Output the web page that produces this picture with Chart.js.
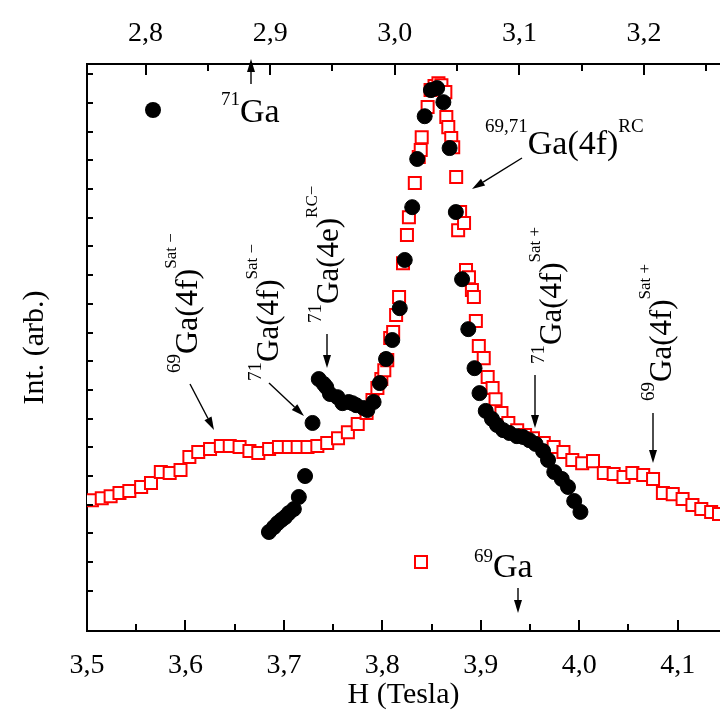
<!DOCTYPE html>
<html lang="en">
<head>
<meta charset="UTF-8">
<title>Ga spectrum</title>
<style>
  html, body { margin: 0; padding: 0; background: #fff; }
  #wrap { width: 720px; height: 720px; }
</style>
<script src="https://cdn.jsdelivr.net/npm/chart.js@4"></script>
</head>
<body>
<div id="wrap"><canvas id="spec" width="720" height="720"></canvas></div>
<script>
// 69Ga trace (open red squares), read against the bottom field axis (T)
const field69 = [3.505, 3.515, 3.524, 3.533, 3.543, 3.555, 3.565, 3.575, 3.584, 3.595,
  3.604, 3.613, 3.625, 3.636, 3.645, 3.655, 3.665, 3.674, 3.685, 3.695,
  3.705, 3.714, 3.724, 3.734, 3.744, 3.755, 3.765, 3.775, 3.784, 3.790,
  3.795, 3.799, 3.802, 3.805, 3.808, 3.811, 3.814, 3.817, 3.821, 3.825,
  3.827, 3.833, 3.837, 3.839, 3.840, 3.846, 3.849, 3.853, 3.857, 3.860,
  3.864, 3.865, 3.867, 3.870, 3.872, 3.875, 3.877, 3.879, 3.883, 3.885,
  3.888, 3.891, 3.893, 3.895, 3.898, 3.903, 3.907, 3.912, 3.915, 3.921,
  3.928, 3.937, 3.945, 3.953, 3.964, 3.974, 3.984, 3.993, 4.003, 4.014,
  4.025, 4.035, 4.045, 4.054, 4.065, 4.075, 4.085, 4.095, 4.105, 4.115,
  4.124, 4.134, 4.142];
const int69 = [4.16, 4.23, 4.30, 4.41, 4.48, 4.62, 4.76, 5.14, 5.11, 5.21,
  5.66, 5.84, 5.94, 6.05, 6.05, 6.01, 5.87, 5.80, 5.94, 6.01,
  6.01, 6.01, 6.01, 6.05, 6.15, 6.32, 6.53, 6.81, 7.20, 7.65,
  8.07, 8.38, 8.69, 9.04, 9.81, 10.02, 10.61, 11.24, 12.42, 13.40,
  14.02, 15.21, 16.12, 16.36, 16.81, 17.86, 18.45, 18.59, 18.69, 18.62,
  18.38, 17.51, 17.16, 16.78, 16.46, 15.42, 13.57, 14.20, 13.82, 12.18,
  11.93, 11.48, 11.24, 10.40, 9.53, 9.11, 8.45, 8.07, 7.68, 7.20,
  6.85, 6.60, 6.43, 6.32, 6.15, 6.01, 5.84, 5.56, 5.45, 5.52,
  5.11, 5.07, 4.97, 5.11, 5.04, 4.90, 4.41, 4.37, 4.20, 3.99,
  3.85, 3.75, 3.68];

// 71Ga trace (black dots), read against the top field axis (T)
const field71 = [2.899, 2.903, 2.906, 2.909, 2.912, 2.915, 2.919, 2.923, 2.928, 2.934,
  2.939, 2.943, 2.945, 2.948, 2.954, 2.958, 2.963, 2.966, 2.969, 2.975,
  2.978, 2.983, 2.988, 2.993, 2.998, 3.004, 3.008, 3.014, 3.018, 3.024,
  3.029, 3.034, 3.039, 3.044, 3.049, 3.054, 3.059, 3.064, 3.068, 3.073,
  3.078, 3.082, 3.087, 3.092, 3.098, 3.103, 3.108, 3.113, 3.119, 3.123,
  3.128, 3.134, 3.139, 3.144, 3.149];
const int71 = [3.05, 3.22, 3.36, 3.47, 3.57, 3.71, 3.85, 4.27, 5.00, 6.85,
  8.38, 8.21, 8.10, 7.86, 7.75, 7.54, 7.58, 7.54, 7.47, 7.37,
  7.30, 7.58, 8.24, 9.08, 9.74, 10.85, 12.53, 14.37, 16.05, 17.54,
  18.45, 18.52, 18.03, 16.43, 14.20, 11.86, 10.12, 8.76, 7.89, 7.27,
  6.99, 6.78, 6.60, 6.50, 6.39, 6.36, 6.25, 6.12, 5.87, 5.56,
  5.14, 4.90, 4.62, 4.13, 3.75];

const bottomRange = [3.5, 4.143];
const topRange = [2.753, 3.261];
const intRange = [-0.4, 19.36];

const FONT = '"Liberation Serif", "Times New Roman", serif';

function commaLabel(v) {
  const r = Math.round(v * 10);
  return Math.abs(v * 10 - r) < 1e-6 ? (r / 10).toFixed(1).replace('.', ',') : '';
}

// tick marks pointing into the frame
const innerTicks = {
  id: 'innerTicks',
  afterDraw(chart) {
    const ctx = chart.ctx, a = chart.chartArea;
    ctx.save();
    ctx.strokeStyle = '#000';
    ctx.lineWidth = 2;
    ['x', 'x2'].forEach(id => {
      const s = chart.scales[id];
      s.ticks.forEach(t => {
        const major = Math.abs(t.value * 10 - Math.round(t.value * 10)) < 1e-6;
        const len = major ? 11 : 7;
        const px = Math.round(s.getPixelForValue(t.value));
        ctx.beginPath();
        if (id === 'x') { ctx.moveTo(px, a.bottom); ctx.lineTo(px, a.bottom - len); }
        else { ctx.moveTo(px, a.top); ctx.lineTo(px, a.top + len); }
        ctx.stroke();
      });
    });
    const y = chart.scales.y;
    y.ticks.forEach(t => {
      if (t.value < 0.5) return;
      const py = Math.round(y.getPixelForValue(t.value));
      ctx.beginPath();
      ctx.moveTo(a.left, py);
      ctx.lineTo(a.left + 6, py);
      ctx.stroke();
    });
    ctx.restore();
  }
};

function richText(ctx, x, y, parts, angle) {
  ctx.save();
  ctx.translate(x, y);
  if (angle) ctx.rotate(angle);
  ctx.textAlign = 'left';
  ctx.textBaseline = 'alphabetic';
  ctx.fillStyle = '#000';
  let cx = 0;
  parts.forEach(([txt, size, dy]) => {
    ctx.font = size + 'px ' + FONT;
    ctx.fillText(txt, cx, dy);
    cx += ctx.measureText(txt).width;
  });
  ctx.restore();
}

function arrow(ctx, x0, y0, x1, y1) {
  const ang = Math.atan2(y1 - y0, x1 - x0);
  const hl = 13, hw = 4;
  ctx.save();
  ctx.strokeStyle = '#000';
  ctx.fillStyle = '#000';
  ctx.lineWidth = 1.4;
  ctx.beginPath();
  ctx.moveTo(x0, y0);
  ctx.lineTo(x1 - hl * Math.cos(ang), y1 - hl * Math.sin(ang));
  ctx.stroke();
  ctx.beginPath();
  ctx.moveTo(x1, y1);
  ctx.lineTo(x1 - hl * Math.cos(ang) + hw * Math.sin(ang), y1 - hl * Math.sin(ang) - hw * Math.cos(ang));
  ctx.lineTo(x1 - hl * Math.cos(ang) - hw * Math.sin(ang), y1 - hl * Math.sin(ang) + hw * Math.cos(ang));
  ctx.closePath();
  ctx.fill();
  ctx.restore();
}

const UP = -Math.PI / 2;
const labels = [
  { x: 221, y: 122, rot: 0, parts: [['71', 19, -17], ['Ga', 34, 0]] },
  { x: 474, y: 577, rot: 0, parts: [['69', 19, -15], ['Ga', 34, 0]] },
  { x: 485, y: 154, rot: 0, parts: [['69,71', 19, -22], ['Ga(4f)', 34, 0], ['RC', 19, -22]] },
  { x: 197, y: 373, rot: UP, parts: [['69', 19, -17], ['Ga(4f)', 32, 0], ['Sat \u2212', 17, -21]] },
  { x: 278, y: 381, rot: UP, parts: [['71', 19, -17], ['Ga(4f)', 31, 0], ['Sat \u2212', 17, -21]] },
  { x: 338, y: 323, rot: UP, parts: [['71', 19, -17], ['Ga(4e)', 31, 0], ['RC\u2212', 17, -21]] },
  { x: 561, y: 364, rot: UP, parts: [['71', 19, -17], ['Ga(4f)', 31, 0], ['Sat +', 17, -21]] },
  { x: 671, y: 401, rot: UP, parts: [['69', 19, -17], ['Ga(4f)', 31, 0], ['Sat +', 17, -21]] }
];
const arrows = [
  [251, 84, 251, 59], [518, 588, 518, 613], [522, 158, 472, 189],
  [190, 384, 214, 430], [269, 383, 304, 416], [327, 334, 327, 368],
  [535, 375, 535, 428], [653, 413, 653, 463]
];

const notes = {
  id: 'notes',
  afterDraw(chart) {
    const ctx = chart.ctx;
    labels.forEach(l => richText(ctx, l.x, l.y, l.parts, l.rot));
    arrows.forEach(a => arrow(ctx, a[0], a[1], a[2], a[3]));
    // legend symbols
    ctx.save();
    ctx.fillStyle = '#000';
    ctx.beginPath();
    ctx.arc(153, 110, 8, 0, Math.PI * 2);
    ctx.fill();
    ctx.fillStyle = '#fff';
    ctx.strokeStyle = '#ff0000';
    ctx.lineWidth = 2;
    ctx.fillRect(415, 556, 12, 12);
    ctx.strokeRect(415, 556, 12, 12);
    ctx.restore();
  }
};

function axisStyle(extra) {
  return Object.assign({
    type: 'linear',
    grid: { display: false, drawTicks: false },
    border: { display: true, color: '#000', width: 2 }
  }, extra);
}

function fixH(h) {
  return s => { s.height = h; s.paddingLeft = 0; s.paddingRight = 0; };
}

new Chart(document.getElementById('spec'), {
  type: 'scatter',
  data: {
    datasets: [
      {
        label: '71Ga',
        data: field71.map((v, i) => ({ x: v, y: int71[i] })),
        xAxisID: 'x2', yAxisID: 'y',
        pointStyle: 'circle', pointRadius: 7.5, pointHoverRadius: 7.5,
        backgroundColor: '#000', borderColor: '#000', borderWidth: 1,
        order: 0
      },
      {
        label: '69Ga',
        data: field69.map((v, i) => ({ x: v, y: int69[i] })),
        xAxisID: 'x', yAxisID: 'y',
        pointStyle: 'rect', pointRadius: 8.5, pointHoverRadius: 8.5,
        backgroundColor: '#fff', borderColor: '#ff0000', borderWidth: 2,
        order: 1
      }
    ]
  },
  options: {
    responsive: false,
    animation: false,
    devicePixelRatio: 1,
    layout: { autoPadding: false, padding: 0 },
    plugins: { legend: { display: false }, tooltip: { enabled: false } },
    scales: {
      x: axisStyle({
        position: 'bottom',
        min: bottomRange[0], max: bottomRange[1],
        ticks: {
          stepSize: 0.05, includeBounds: false, autoSkip: false, maxRotation: 0, padding: 18,
          color: '#000', font: { family: FONT, size: 28, lineHeight: 1.2 },
          callback: commaLabel
        },
        title: {
          display: true, text: 'H (Tesla)', color: '#000',
          font: { family: FONT, size: 30, lineHeight: 1.2 },
          padding: { top: 0, bottom: 7 }
        },
        afterFit: fixH(89)
      }),
      x2: axisStyle({
        position: 'top',
        min: topRange[0], max: topRange[1],
        ticks: {
          stepSize: 0.05, includeBounds: false, autoSkip: false, maxRotation: 0, padding: 14,
          color: '#000', font: { family: FONT, size: 28, lineHeight: 1.2 },
          callback: commaLabel
        },
        afterFit: fixH(64)
      }),
      y: axisStyle({
        position: 'left',
        min: intRange[0], max: intRange[1],
        ticks: { stepSize: 1, includeBounds: false, display: false },
        title: {
          display: true, text: 'Int. (arb.)', color: '#000',
          font: { family: FONT, size: 30, lineHeight: 1.2 },
          padding: { top: 17, bottom: 0 }
        },
        afterFit: s => { s.width = 87; s.paddingTop = 0; s.paddingBottom = 0; }
      })
    }
  },
  plugins: [innerTicks, notes]
});
</script>
</body>
</html>
